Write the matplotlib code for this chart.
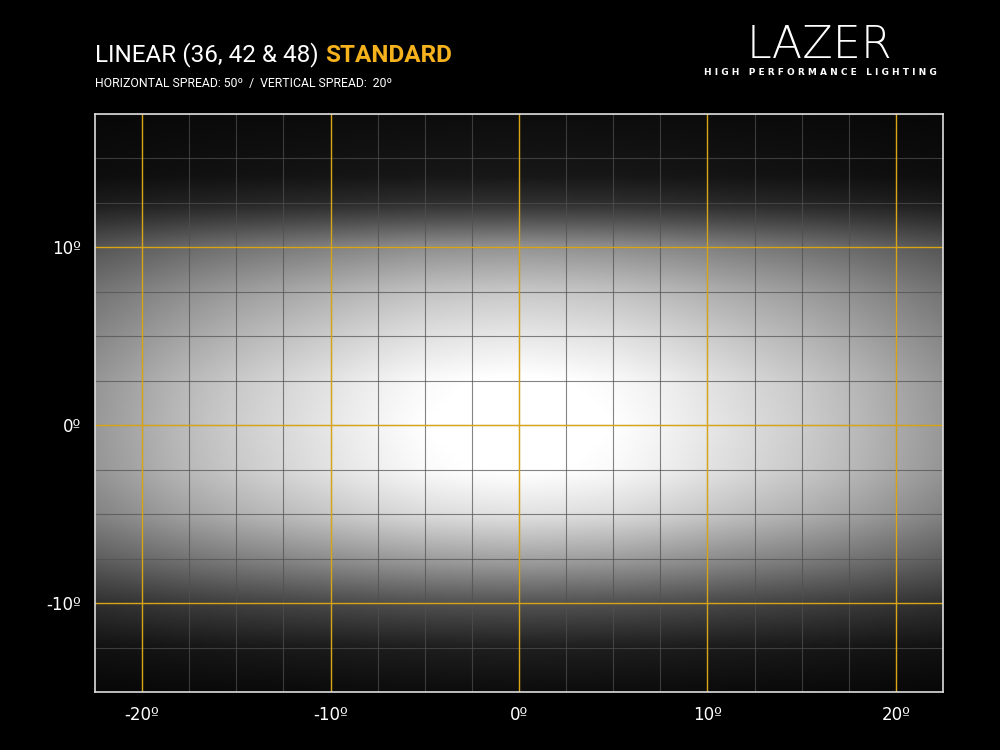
import numpy as np
import matplotlib
matplotlib.use("Agg")
import matplotlib.pyplot as plt

# Beam profiles (relative brightness)
h_deg = [-22.5, -20, -17.5, -15, -12.5, -10, -7.5, -5, -2.5, 0, 2.5, 5, 7.5, 10, 12.5, 15, 17.5, 20, 22.5]
h_val = [0.58, 0.65, 0.72, 0.78, 0.83, 0.88, 0.93, 0.97, 0.99, 1.0, 0.99, 0.97, 0.93, 0.88, 0.83, 0.78, 0.72, 0.65, 0.58]
v_deg = [-15, -12.5, -10, -7.5, -5, -2.5, 0, 2.5, 5, 7.5, 10, 11.5, 12.5, 14, 17.5]
v_val = [0.05, 0.12, 0.32, 0.62, 0.86, 0.98, 1.0, 0.98, 0.88, 0.76, 0.56, 0.32, 0.18, 0.09, 0.05]

x_ticks = [-20, -10, 0, 10, 20]
y_ticks = [-10, 0, 10]
x_labels = ["-20º", "-10º", "0º", "10º", "20º"]
y_labels = ["-10º", "0º", "10º"]

fig = plt.figure(figsize=(10, 7.5), dpi=100, facecolor="black")
ax = fig.add_axes([0.095, 0.077, 0.848, 0.771])
ax.set_facecolor("black")

xs = np.linspace(-22.5, 22.5, 600)
ys = np.linspace(-15, 17.5, 500)
hx = np.interp(xs, h_deg, h_val)
vy = np.interp(ys, v_deg, v_val)
img = np.clip(np.outer(vy, hx) * 1.03, 0, 1)
ax.imshow(img, extent=[-22.5, 22.5, -15, 17.5], origin="lower", cmap="gray",
          vmin=0, vmax=1, aspect="auto", interpolation="bicubic", zorder=0)

for g in np.arange(-20, 22.6, 2.5):
    ax.axvline(g, color="#505050", lw=0.8, alpha=0.7, zorder=1)
for g in np.arange(-15, 17.6, 2.5):
    ax.axhline(g, color="#505050", lw=0.8, alpha=0.7, zorder=1)
for t in x_ticks:
    ax.axvline(t, color="#d9a514", lw=1.0, zorder=2)
for t in y_ticks:
    ax.axhline(t, color="#d9a514", lw=1.0, zorder=2)

ax.set_xlim(-22.5, 22.5)
ax.set_ylim(-15, 17.5)
ax.set_xticks(x_ticks, x_labels)
ax.set_yticks(y_ticks, y_labels)
ax.tick_params(colors="white", labelsize=12, length=0, pad=10)
for s in ax.spines.values():
    s.set_color("#dddddd")
    s.set_linewidth(1.2)

fam = ["Roboto", "DejaVu Sans"]
t1 = fig.text(0.095, 0.918, "LINEAR (36, 42 & 48) ", color="white", fontsize=17.5,
              family=fam, va="baseline")
fig.canvas.draw()
bb = t1.get_window_extent()
fig.text(bb.x1 / fig.bbox.width, 0.918, "STANDARD", color="#f5b21c", fontsize=17.5,
         fontweight="bold", family=fam, va="baseline")
fig.text(0.095, 0.884, "HORIZONTAL SPREAD: 50º  /  VERTICAL SPREAD:  20º", color="white",
         fontsize=8.8, family=fam, va="baseline")

fig.text(0.82, 0.922, "LAZER", color="white", fontsize=32, ha="center",
         va="baseline", family="DejaVu Sans", fontweight="light")
fig.text(0.82, 0.9, "H I G H   P E R F O R M A N C E   L I G H T I N G", color="white",
         fontsize=6.5, ha="center", va="baseline", fontweight="bold")

fig.savefig("out.png", dpi=100, facecolor="black")
